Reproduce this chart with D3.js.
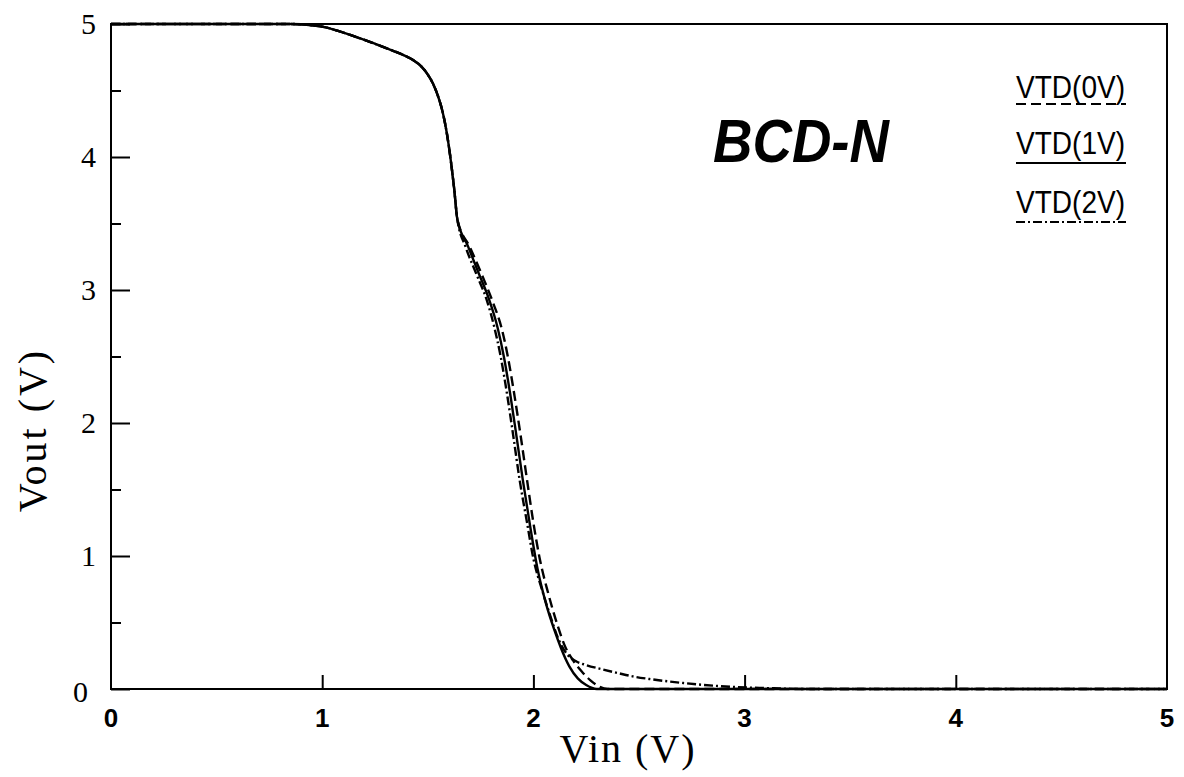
<!DOCTYPE html>
<html>
<head>
<meta charset="utf-8">
<script src="https://cdn.jsdelivr.net/npm/d3@7"></script>
<style>
  html, body { margin: 0; padding: 0; background: #fff; }
  svg { display: block; }
</style>
</head>
<body>
<svg id="chart" width="1184" height="777"></svg>
<script>
// ---- data (Vin, Vout) ----
const sharedTop = [
  [0.0, 5.0], [0.5, 5.0], [0.85, 5.0], [1.0, 4.98], [1.1, 4.935], [1.2, 4.88],
  [1.3, 4.82], [1.38, 4.77], [1.43, 4.73], [1.47, 4.68], [1.50, 4.62],
  [1.525, 4.55], [1.55, 4.45], [1.57, 4.34], [1.59, 4.18], [1.61, 3.96],
  [1.625, 3.76], [1.64, 3.53]
];
const vtd0 = [ // dashed
  [1.70, 3.32], [1.76, 3.10], [1.81, 2.90], [1.85, 2.71], [1.88, 2.49],
  [1.91, 2.21], [1.94, 1.90], [1.97, 1.57], [2.00, 1.25], [2.03, 0.98],
  [2.07, 0.72], [2.11, 0.50], [2.15, 0.32], [2.19, 0.21], [2.23, 0.13],
  [2.27, 0.065], [2.31, 0.02], [2.35, 0.0], [3.0, 0.0], [5.0, 0.0]
];
const vtd1 = [ // solid
  [1.69, 3.33], [1.74, 3.13], [1.79, 2.93], [1.83, 2.72], [1.86, 2.50],
  [1.89, 2.22], [1.92, 1.90], [1.95, 1.57], [1.985, 1.22], [2.02, 0.90],
  [2.06, 0.64], [2.10, 0.44], [2.13, 0.31], [2.17, 0.17], [2.21, 0.08],
  [2.25, 0.03], [2.30, 0.0], [3.0, 0.0], [5.0, 0.0]
];
const vtd2 = [ // dash-dot
  [1.68, 3.32], [1.73, 3.12], [1.78, 2.92], [1.815, 2.72], [1.845, 2.50],
  [1.875, 2.22], [1.905, 1.90], [1.935, 1.57], [1.97, 1.25], [2.00, 0.98],
  [2.04, 0.75], [2.08, 0.55], [2.12, 0.37], [2.16, 0.26], [2.20, 0.21],
  [2.25, 0.18], [2.32, 0.15], [2.40, 0.12], [2.47, 0.095], [2.55, 0.075],
  [2.71, 0.045], [2.85, 0.025], [2.95, 0.015], [3.1, 0.007], [3.3, 0.0],
  [5.0, 0.0]
];
const seriesNames = ["VTD(0V)", "VTD(1V)", "VTD(2V)"];
const seriesDash = ["10,5", null, "9,3,2,3"];
const xTickValues = [0, 1, 2, 3, 4, 5];
const yTickValues = [0, 1, 2, 3, 4, 5];
const yMinorTicks = [0.5, 1.5, 2.5, 3.5, 4.5];
const xInnerTicks = [1, 2, 3, 4];
const chartTitle = "BCD-N";
const xLabel = "Vin (V)";
const yLabel = "Vout (V)";

// ---- layout ----
const svg = d3.select("#chart");
const L = 111, R = 1167, T = 24, B = 689;
const x = d3.scaleLinear().domain([0, 5]).range([L, R]);
const y = d3.scaleLinear().domain([0, 5]).range([B, T]);

const serif = "'Liberation Serif', 'Times New Roman', serif";
const sans = "'Liberation Sans', Arial, Helvetica, sans-serif";

const seriesData = [vtd0, vtd1, vtd2].map(s => sharedTop.concat(s));

const line = d3.line()
  .x(d => x(d[0]))
  .y(d => y(d[1]))
  .curve(d3.curveMonotoneX);

// curves
const g = svg.append("g");
seriesData.forEach((d, i) => {
  g.append("path")
    .datum(d)
    .attr("d", line)
    .attr("fill", "none")
    .attr("stroke", "#000")
    .attr("stroke-width", 2.4)
    .attr("stroke-linejoin", "round")
    .attr("stroke-dasharray", seriesDash[i]);
});

// frame
svg.append("rect")
  .attr("x", L).attr("y", T)
  .attr("width", R - L).attr("height", B - T)
  .attr("fill", "none").attr("stroke", "#000").attr("stroke-width", 2);

// y axis (inward ticks)
const yAxis = d3.axisRight(y).tickValues(yTickValues).tickSize(19).tickFormat("");
svg.append("g").attr("transform", `translate(${L},0)`).call(yAxis)
  .call(a => a.select(".domain").remove())
  .call(a => a.selectAll("line").attr("stroke-width", 2));
const yMinor = d3.axisRight(y).tickValues(yMinorTicks).tickSize(10).tickFormat("");
svg.append("g").attr("transform", `translate(${L},0)`).call(yMinor)
  .call(a => a.select(".domain").remove())
  .call(a => a.selectAll("line").attr("stroke-width", 2));

// x axis inward ticks
const xAxis = d3.axisTop(x).tickValues(xInnerTicks).tickSize(14).tickFormat("");
svg.append("g").attr("transform", `translate(0,${B})`).call(xAxis)
  .call(a => a.select(".domain").remove())
  .call(a => a.selectAll("line").attr("stroke-width", 2));

// y tick labels (serif)
svg.append("g").selectAll("text")
  .data(yTickValues).join("text")
  .attr("x", d => d === 0 ? 88 : 96)
  .attr("y", d => y(d) + (d === 0 ? 13 : 10))
  .attr("text-anchor", "end")
  .attr("font-family", serif)
  .attr("font-size", 30)
  .text(d => d);

// x tick labels (sans)
svg.append("g").selectAll("text")
  .data(xTickValues).join("text")
  .attr("x", d => x(d))
  .attr("y", 727)
  .attr("text-anchor", "middle")
  .attr("font-family", sans)
  .attr("font-size", 26)
  .attr("font-weight", "bold")
  .text(d => d);

// axis titles
svg.append("text")
  .attr("x", 628).attr("y", 762)
  .attr("text-anchor", "middle")
  .attr("font-family", serif)
  .attr("font-size", 40)
  .attr("letter-spacing", 2)
  .text(xLabel);

svg.append("text")
  .attr("transform", "translate(46,430) rotate(-90)")
  .attr("text-anchor", "middle")
  .attr("font-family", serif)
  .attr("font-size", 40)
  .attr("letter-spacing", 3)
  .text(yLabel);

// title
svg.append("text")
  .attr("x", 713).attr("y", 162)
  .attr("font-family", sans)
  .attr("font-size", 62)
  .attr("font-weight", "bold")
  .attr("font-style", "italic")
  .attr("textLength", 176)
  .attr("lengthAdjust", "spacingAndGlyphs")
  .text(chartTitle);

// legend
const legBase = [98, 154, 213];
const legLine = [104, 163, 222];
seriesNames.forEach((name, i) => {
  svg.append("text")
    .attr("x", 1016).attr("y", legBase[i])
    .attr("font-family", sans)
    .attr("font-size", 31)
    .attr("textLength", 109)
    .attr("lengthAdjust", "spacingAndGlyphs")
    .text(name);
  svg.append("line")
    .attr("x1", 1016).attr("x2", 1126)
    .attr("y1", legLine[i]).attr("y2", legLine[i])
    .attr("stroke", "#000").attr("stroke-width", 2.2)
    .attr("stroke-dasharray", seriesDash[i]);
});
</script>
</body>
</html>
